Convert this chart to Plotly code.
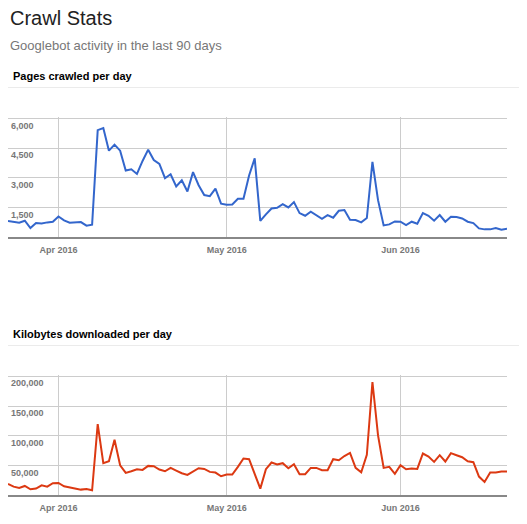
import pandas as pd
import plotly.graph_objects as go

# 90 days of Googlebot activity, starting 23 Mar 2016
start_day = "2016-03-23"
n_days = 90
days = pd.date_range(start_day, periods=n_days)

pages_crawled = [
    810, 780, 724, 825, 455, 707, 690, 741, 775, 1044,
    842, 724, 724, 758, 573, 623, 5422, 5524, 4378, 4682,
    4378, 3368, 3435, 3200, 3856, 4429, 3907, 3705, 2981, 3183,
    2560, 2880, 2310, 3290, 2627, 2130, 2071, 2450, 1690, 1633,
    1650, 1940, 1937, 3120, 3990, 820, 1150, 1448, 1482, 1667,
    1499, 1768, 1212, 1078, 1280, 1111, 926, 1111, 977, 1330,
    1364, 876, 859, 741, 960, 3806, 1869, 589, 640, 791,
    775, 606, 775, 674, 1212, 1078, 825, 1111, 775, 1027,
    1010, 943, 775, 707, 438, 387, 387, 455, 370, 421,
]

kb_downloaded = [
    19100, 14600, 12360, 15730, 10110, 11240, 16850, 14600, 20220, 20790,
    15170, 12920, 11800, 9550, 10670, 8430, 119660, 53930, 57300, 93260,
    50560, 37640, 40450, 43820, 42700, 49440, 48880, 43260, 40450, 46070,
    41570, 37080, 34270, 39330, 45510, 44380, 39330, 38200, 32020, 34830,
    34830, 47750, 61800, 60670, 35960, 11240, 43820, 55060, 51690, 53930,
    45510, 52250, 35390, 35390, 46070, 46070, 42140, 42140, 60670, 58990,
    66000, 71350, 46070, 38760, 67980, 190450, 100560, 46070, 47750, 35960,
    50560, 43820, 44940, 44380, 70220, 65170, 56180, 67420, 56740, 70790,
    67420, 64050, 57300, 55620, 31460, 22470, 38200, 38200, 39890, 39890,
]

month_ticks = ["2016-04-01", "2016-05-01", "2016-06-01"]
month_labels = ["Apr 2016", "May 2016", "Jun 2016"]
pages_ticks = [1500, 3000, 4500, 6000]
pages_labels = ["1,500", "3,000", "4,500", "6,000"]
kb_ticks = [50000, 100000, 150000, 200000]
kb_labels = ["50,000", "100,000", "150,000", "200,000"]

# the page body keeps its default 8px margin, so the figure is drawn
# smaller and every position below is given in window pixels
PAGE_W, PAGE_H = 527, 524
OFF = 8
W, H = PAGE_W - 2 * OFF, PAGE_H - 2 * OFF
FONT = "Liberation Sans, Arial, sans-serif"
TICK_FONT = dict(family=FONT, size=9, color="#777")
HEADROOM = 1.015  # keep the top gridline just inside the plot area


def px_x(x):
    return max(0.0, (x - OFF) / W)


def px_y(y):
    return 1 - (y - OFF) / H


def y_domain(base_px, top_px):
    top = base_px - (base_px - top_px) * HEADROOM
    return [px_y(base_px), px_y(top)]


fig = go.Figure()
fig.add_trace(go.Scatter(x=days, y=pages_crawled, mode="lines",
                         line=dict(color="#3366cc", width=2),
                         xaxis="x", yaxis="y", showlegend=False))
fig.add_trace(go.Scatter(x=days, y=kb_downloaded, mode="lines",
                         line=dict(color="#dc3912", width=2),
                         xaxis="x2", yaxis="y2", showlegend=False))

x_range = [days[0], days[-1]]
xaxis_common = dict(
    range=x_range, tickvals=month_ticks,
    ticktext=["<b>%s</b>" % t for t in month_labels],
    tickfont=TICK_FONT, ticklabelstandoff=3,
    showgrid=True, gridcolor="#cccccc", gridwidth=1,
    showline=True, linecolor="#888", linewidth=1.5, ticks="",
    zeroline=False, fixedrange=True,
)
yaxis_common = dict(
    ticklabelposition="inside", ticklabelshift=7, ticklabelstandoff=0,
    ticklabeloverflow="allow",
    tickfont=TICK_FONT, showgrid=True, gridcolor="#cccccc", gridwidth=1,
    zeroline=False, showline=False, ticks="", fixedrange=True,
)

fig.update_layout(
    width=W, height=H,
    margin=dict(l=0, r=0, t=0, b=0),
    paper_bgcolor="white", plot_bgcolor="white",
    font=dict(family=FONT),
    xaxis=dict(domain=[px_x(7), px_x(507)], anchor="y", **xaxis_common),
    yaxis=dict(domain=y_domain(237, 118.7), anchor="x", range=[0, 6000 * HEADROOM],
               tickvals=pages_ticks,
               ticktext=["<b>%s</b>" % t for t in pages_labels],
               **yaxis_common),
    xaxis2=dict(domain=[px_x(7), px_x(507)], anchor="y2", **xaxis_common),
    yaxis2=dict(domain=y_domain(495.3, 376.3), anchor="x2",
                range=[0, 200000 * HEADROOM],
                tickvals=kb_ticks,
                ticktext=["<b>%s</b>" % t for t in kb_labels],
                **yaxis_common),
)

# page header and section headings
fig.add_annotation(text="Crawl Stats", x=px_x(6), y=px_y(18), xref="paper", yref="paper",
                   xanchor="left", yanchor="middle", showarrow=False,
                   font=dict(family=FONT, size=20, color="#222"))
fig.add_annotation(text="Googlebot activity in the last 90 days", x=px_x(6), y=px_y(46),
                   xref="paper", yref="paper", xanchor="left", yanchor="middle",
                   showarrow=False, font=dict(family=FONT, size=13, color="#777"))

for label, y_text, y_rule in [("Pages crawled per day", 76, 87.5),
                              ("Kilobytes downloaded per day", 334, 345.5)]:
    fig.add_annotation(text="<b>%s</b>" % label, x=px_x(11), y=px_y(y_text),
                       xref="paper", yref="paper", xanchor="left", yanchor="middle",
                       showarrow=False, font=dict(family=FONT, size=11, color="#000"))
    fig.add_shape(type="line", xref="paper", yref="paper",
                  x0=px_x(7), x1=1, y0=px_y(y_rule), y1=px_y(y_rule),
                  line=dict(color="#ebebeb", width=1))

fig.write_html("out.html")
